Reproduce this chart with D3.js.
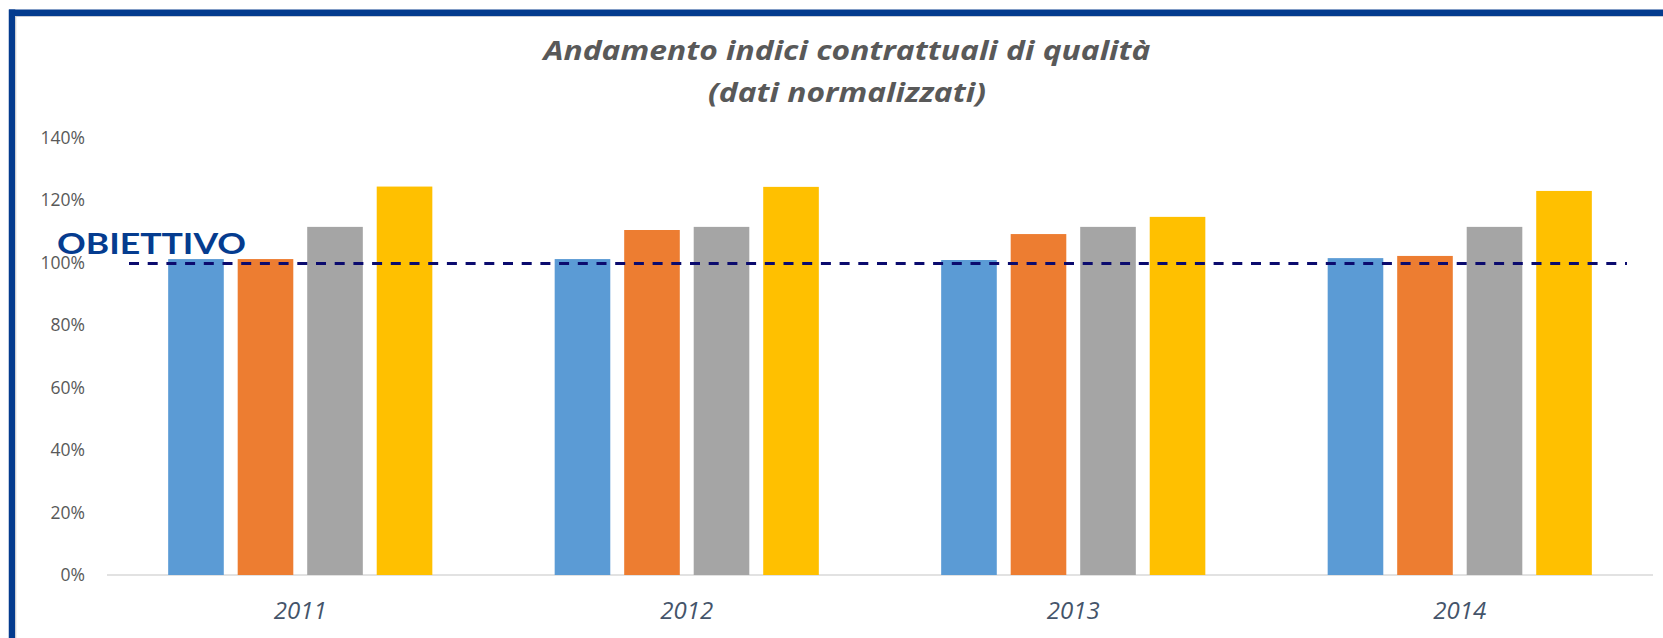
<!DOCTYPE html>
<html>
<head>
<meta charset="utf-8">
<script src="https://cdnjs.cloudflare.com/ajax/libs/d3/7.8.5/d3.min.js"></script>
<style>
  body { margin: 0; background: #fff; }
  svg { display: block; }
</style>
</head>
<body>
<svg width="1663" height="638"></svg>
<script>
// chart data
var years = ["2011", "2012", "2013", "2014"];
var seriesNames = ["s1", "s2", "s3", "s4"];
var seriesColors = ["#5B9BD5", "#ED7D31", "#A5A5A5", "#FFC000"];
var values = [
  [1.011, 1.011, 1.114, 1.243],
  [1.011, 1.104, 1.114, 1.242],
  [1.008, 1.091, 1.114, 1.146],
  [1.014, 1.021, 1.114, 1.229]
];
var yTicks = [0, 0.2, 0.4, 0.6, 0.8, 1.0, 1.2, 1.4];
var objective = 0.997;
var titleLines = ["Andamento indici contrattuali di qualità", "(dati normalizzati)"];

var svg = d3.select("svg");
// note: "top" is reserved on window, so use other names
var plotLeft = 107, plotRight = 1653, plotTop = 137.5, plotBottom = 575;

// frame: thick blue line on top and left only
svg.append("line").attr("x1", 9).attr("x2", 1663).attr("y1", 12.7).attr("y2", 12.7)
  .attr("stroke", "#043B8E").attr("stroke-width", 6.5);
svg.append("line").attr("x1", 12).attr("x2", 12).attr("y1", 9.5).attr("y2", 638)
  .attr("stroke", "#043B8E").attr("stroke-width", 6.5);
svg.append("line").attr("x1", 15.5).attr("x2", 1663).attr("y1", 16.5).attr("y2", 16.5)
  .attr("stroke", "#c9ccd6").attr("stroke-width", 1);
svg.append("line").attr("x1", 15.7).attr("x2", 15.7).attr("y1", 16).attr("y2", 638)
  .attr("stroke", "#d0d0d0").attr("stroke-width", 1.2);

var yScale = d3.scaleLinear().domain([0, 1.4]).range([plotBottom, plotTop]);

var x0 = d3.scaleBand().domain(years).range([plotLeft, plotRight]).padding(0);
var x1 = d3.scaleBand().domain(seriesNames).range([0, x0.bandwidth()])
  .paddingInner(0.2).paddingOuter(0.88);

// y axis labels
var yAxis = d3.axisLeft(yScale).tickValues(yTicks).tickSize(0).tickPadding(0)
  .tickFormat(d3.format(".0%"));
var yg = svg.append("g").attr("transform", "translate(85,0)").call(yAxis);
yg.select(".domain").remove();
yg.selectAll("text").attr("fill", "#595959").attr("font-size", 17.5)
  .attr("font-family", "'Open Sans', sans-serif").attr("dy", "0.34em");

// baseline
svg.append("line").attr("x1", plotLeft).attr("x2", plotRight)
  .attr("y1", yScale(0)).attr("y2", yScale(0))
  .attr("stroke", "#D9D9D9").attr("stroke-width", 1.3);

// bars
var groups = svg.selectAll("g.year").data(years).enter().append("g")
  .attr("class", "year")
  .attr("transform", function(d) { return "translate(" + x0(d) + ",0)"; });

groups.selectAll("rect")
  .data(function(d, i) {
    return values[i].map(function(v, j) { return { key: seriesNames[j], value: v, color: seriesColors[j] }; });
  })
  .enter().append("rect")
  .attr("x", function(d) { return x1(d.key); })
  .attr("width", x1.bandwidth())
  .attr("y", function(d) { return yScale(d.value); })
  .attr("height", function(d) { return yScale(0) - yScale(d.value); })
  .attr("fill", function(d) { return d.color; });

// x axis labels
var xAxis = d3.axisBottom(x0).tickSize(0).tickPadding(0);
var xg = svg.append("g").attr("transform", "translate(0,611)").call(xAxis);
xg.select(".domain").remove();
xg.selectAll("text").attr("fill", "#44546A").attr("font-size", 24)
  .attr("font-style", "italic").attr("font-family", "'Open Sans', sans-serif")
  .attr("dy", "0.35em");

// objective line
svg.append("line")
  .attr("x1", plotLeft + 22).attr("x2", plotRight - 26)
  .attr("y1", yScale(objective)).attr("y2", yScale(objective))
  .attr("stroke", "#0B0B6E").attr("stroke-width", 3)
  .attr("stroke-dasharray", "10,8.7");

svg.append("text").attr("x", 57).attr("y", 254)
  .attr("font-family", "Lato, sans-serif").attr("font-weight", "bold")
  .attr("font-size", 29).attr("fill", "#053C8F")
  .attr("textLength", 189).attr("lengthAdjust", "spacingAndGlyphs")
  .text("OBIETTIVO");

// title
var titleWidths = [607, 278];
svg.selectAll("text.title").data(titleLines).enter().append("text")
  .attr("class", "title")
  .attr("x", 847).attr("y", function(d, i) { return 51 + i * 42; })
  .attr("dy", "0.35em")
  .attr("text-anchor", "middle")
  .attr("font-family", "'Open Sans', sans-serif").attr("font-weight", "bold")
  .attr("font-style", "italic").attr("font-size", 27).attr("fill", "#595959")
  .attr("textLength", function(d, i) { return titleWidths[i]; })
  .attr("lengthAdjust", "spacingAndGlyphs")
  .text(function(d) { return d; });
</script>
</body>
</html>
